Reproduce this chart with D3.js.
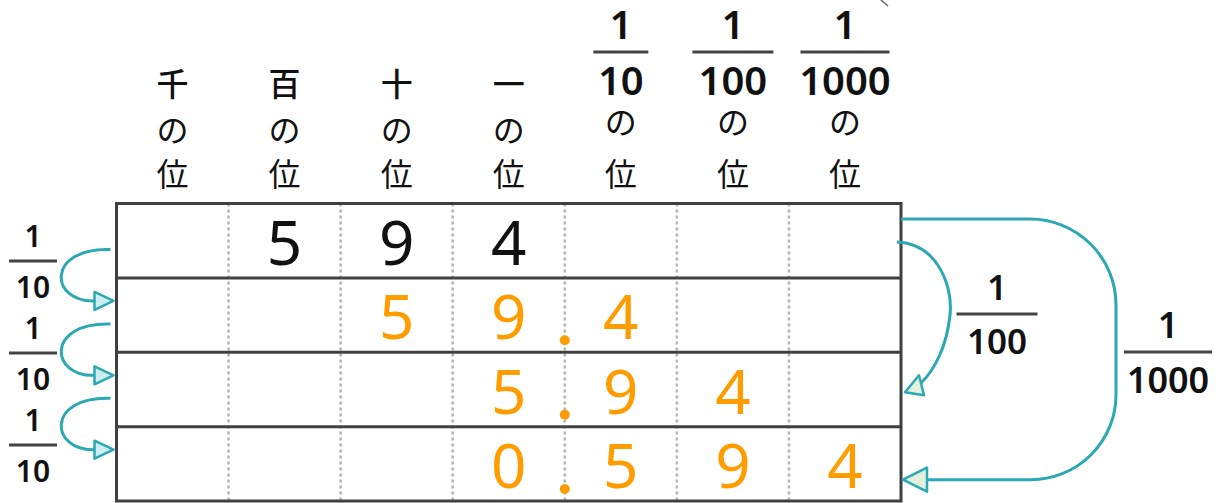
<!DOCTYPE html>
<html><head><meta charset="utf-8">
<script src="https://cdn.jsdelivr.net/npm/d3@7"></script>
<style>html,body{margin:0;padding:0;background:#fff;}svg{display:block;}</style>
</head><body>
<svg id="c" width="1221" height="503"></svg>
<script>
// ---- data ----
const placeNames = ["千", "百", "十", "一", "10", "100", "1000"];   // column headers (fractions use denominator)
const isFraction = [false, false, false, false, true, true, true];
const rowLabels = ["594", "59.4", "5.94", "0.594"];
const rowDigits = [
  ["", "5", "9", "4", "", "", ""],
  ["", "", "5", "9", "4", "", ""],
  ["", "", "", "5", "9", "4", ""],
  ["", "", "", "0", "5", "9", "4"]
];
const decimalAfterColumn = [null, 3, 3, 3];
const leftFactors = ["10", "10", "10"];     // 1/10 between consecutive rows
const rightFactors = [{den: "100", from: 0, to: 2}, {den: "1000", from: 0, to: 3}];

// ---- layout ----
const svg = d3.select("#c");
const X0 = 116.5, X1 = 901, Y0 = 203.5, Y1 = 501;
const x = d3.scaleBand().domain(d3.range(placeNames.length)).range([X0, X1]);
const y = d3.scaleBand().domain(d3.range(rowDigits.length)).range([Y0, Y1]);
const leftLabelY = d3.scaleLinear().domain([0, leftFactors.length - 1]).range([261, 445]);
const teal = "#2ba8b2", orange = "#ff9c00", ink = "#111", frame = "#404040";
const numFont = "'Noto Sans', 'DejaVu Sans', sans-serif";
const jpFont = "'Noto Sans CJK JP', sans-serif";

// dotted column dividers
svg.append("g").selectAll("line").data(d3.range(1, placeNames.length)).join("line")
  .attr("x1", d => x(d)).attr("x2", d => x(d))
  .attr("y1", Y0).attr("y2", Y1)
  .attr("stroke", "#b4b4b4").attr("stroke-width", 2.5).attr("stroke-dasharray", "3,3");

// row lines
svg.append("g").selectAll("line").data(d3.range(1, rowDigits.length)).join("line")
  .attr("x1", X0).attr("x2", X1).attr("y1", d => y(d)).attr("y2", d => y(d))
  .attr("stroke", frame).attr("stroke-width", 3);
svg.append("rect").attr("x", X0).attr("y", Y0).attr("width", X1 - X0).attr("height", Y1 - Y0)
  .attr("fill", "none").attr("stroke", frame).attr("stroke-width", 3);

// digits
rowDigits.forEach((row, ri) => {
  svg.append("g").selectAll("text").data(row.map((d, ci) => ({d, ci})).filter(o => o.d !== "")).join("text")
    .attr("x", o => x(o.ci) + x.bandwidth() / 2)
    .attr("y", y(ri) + y.bandwidth() - 13)
    .attr("text-anchor", "middle")
    .attr("font-family", numFont).attr("font-size", 62)
    .attr("fill", ri === 0 ? ink : orange)
    .text(o => o.d);
  const dc = decimalAfterColumn[ri];
  if (dc !== null) {
    svg.append("circle").attr("cx", x(dc) + x.bandwidth()).attr("cy", y(ri) + y.bandwidth() - 12)
      .attr("r", 5).attr("fill", orange);
  }
});

// headers
placeNames.forEach((p, i) => {
  const cx = x(i) + x.bandwidth() / 2;
  const g = svg.append("g");
  if (!isFraction[i]) {
    g.append("text").attr("x", cx).attr("y", 96).attr("text-anchor", "middle")
      .attr("font-family", jpFont).attr("font-size", 32).attr("font-weight", 500).attr("fill", ink).text(p);
    g.append("text").attr("x", cx).attr("y", 142).attr("text-anchor", "middle")
      .attr("font-family", jpFont).attr("font-size", 32).attr("fill", ink).text("の");
  } else {
    const lw = [55, 81, 89][i - 4];
    g.append("text").attr("x", cx).attr("y", 39).attr("text-anchor", "middle")
      .attr("font-family", numFont).attr("font-size", 40).attr("font-weight", 600).attr("fill", ink).text("1");
    g.append("line").attr("x1", cx - lw / 2).attr("x2", cx + lw / 2).attr("y1", 52).attr("y2", 52)
      .attr("stroke", "#444").attr("stroke-width", 3);
    g.append("text").attr("x", cx).attr("y", 95).attr("text-anchor", "middle")
      .attr("font-family", numFont).attr("font-size", 40).attr("font-weight", 600).attr("fill", ink).text(p);
    g.append("text").attr("x", cx).attr("y", 134).attr("text-anchor", "middle")
      .attr("font-family", jpFont).attr("font-size", 32).attr("fill", ink).text("の");
  }
  g.append("text").attr("x", cx).attr("y", 186).attr("text-anchor", "middle")
    .attr("font-family", jpFont).attr("font-size", 32).attr("fill", ink).text("位");
});

// small cut-off mark at top
svg.append("path").attr("d", "M881,0 L888,6").attr("stroke", "#666").attr("stroke-width", 1.5).attr("fill", "none");

// fraction label helper
function frac(cx, lineY, den, fs, lw) {
  const g = svg.append("g");
  g.append("text").attr("x", cx).attr("y", lineY - 14).attr("text-anchor", "middle")
    .attr("font-family", numFont).attr("font-size", fs).attr("font-weight", 600).attr("fill", ink).text("1");
  g.append("line").attr("x1", cx - lw / 2).attr("x2", cx + lw / 2).attr("y1", lineY).attr("y2", lineY)
    .attr("stroke", "#444").attr("stroke-width", 3);
  g.append("text").attr("x", cx).attr("y", lineY + 15 + fs * 0.72).attr("text-anchor", "middle")
    .attr("font-family", numFont).attr("font-size", fs).attr("font-weight", 600).attr("fill", ink).text(den);
}

// left arrows 1/10
leftFactors.forEach((den, i) => {
  const ys = y(i) + y.bandwidth() * 0.62;
  const ye = y(i + 1) + y.bandwidth() * 0.31;
  const p = d3.path();
  p.moveTo(X0 - 6, ys);
  p.bezierCurveTo(45, ys - 2, 50, ye + 2, 95, ye);
  svg.append("path").attr("d", p.toString()).attr("fill", "none").attr("stroke", teal).attr("stroke-width", 3);
  svg.append("path").attr("d", `M${X0 - 3},${ye} L${X0 - 22},${ye - 9} L${X0 - 22},${ye + 9} Z`)
    .attr("fill", "#cdeeef").attr("stroke", teal).attr("stroke-width", 2.5).attr("stroke-linejoin", "round");
  frac(33, leftLabelY(i), den, 30, 48);
});

// right arrow 1/100
{
  const ys = y(0) + 38.5, ye = y(2) + 40;
  const p = d3.path();
  p.moveTo(X1 - 4, ys);
  p.bezierCurveTo(940, ys + 2, 953, 290, 950, 315);
  p.bezierCurveTo(947, 345, 935, 370, 920, 384);
  svg.append("path").attr("d", p.toString()).attr("fill", "none").attr("stroke", teal).attr("stroke-width", 3);
  svg.append("path").attr("d", `M${X1 + 4},${ye} L919,${ye - 17} L924,${ye + 3} Z`)
    .attr("fill", "#e2f0dc").attr("stroke", teal).attr("stroke-width", 2.5).attr("stroke-linejoin", "round");
  frac(997, 314, rightFactors[0].den, 35, 81);
}
// right arrow 1/1000
{
  const ys = y(0) + 15.5, ye = y(3) + 53;
  const p = d3.path();
  p.moveTo(X1, ys);
  p.lineTo(1030, ys);
  p.arcTo(1116, ys, 1116, ys + 86, 86);
  p.lineTo(1116, ye - 85);
  p.arcTo(1116, ye, 1031, ye, 85);
  p.lineTo(926, ye);
  svg.append("path").attr("d", p.toString()).attr("fill", "none").attr("stroke", teal).attr("stroke-width", 3);
  svg.append("path").attr("d", `M${X1 + 2},${ye} L927,${ye - 12} L927,${ye + 12} Z`)
    .attr("fill", "#e2f0dc").attr("stroke", teal).attr("stroke-width", 2.5).attr("stroke-linejoin", "round");
  frac(1168, 352, rightFactors[1].den, 36, 88);
}
</script>
</body></html>
